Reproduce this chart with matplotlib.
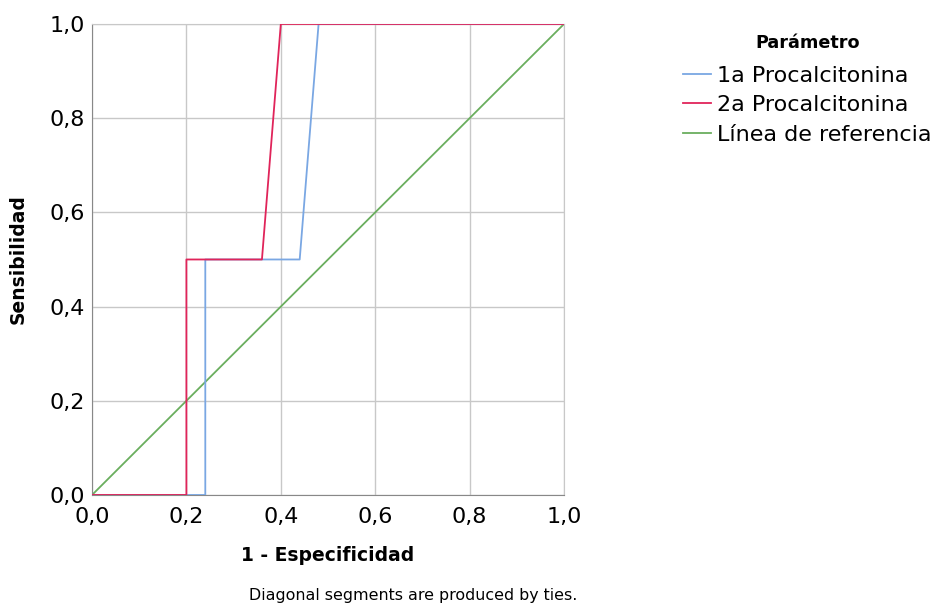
import matplotlib.pyplot as plt
import numpy as np

# curvas ROC
fpr_1a = [0.0, 0.24, 0.24, 0.44, 0.48, 1.0]
tpr_1a = [0.0, 0.0, 0.5, 0.5, 1.0, 1.0]
fpr_2a = [0.0, 0.20, 0.20, 0.36, 0.40, 1.0]
tpr_2a = [0.0, 0.0, 0.5, 0.5, 1.0, 1.0]
ref = [0.0, 1.0]
ticks = [0.0, 0.2, 0.4, 0.6, 0.8, 1.0]
tick_labels = ['0,0', '0,2', '0,4', '0,6', '0,8', '1,0']

plt.rcParams['font.family'] = 'DejaVu Sans'

fig = plt.figure(figsize=(9.36, 6.04), dpi=100)
ax = fig.add_axes([0.0983, 0.1805, 0.5043, 0.7798])

ax.plot(ref, ref, color='#6aae5e', lw=1.3, label='Línea de referencia', zorder=2)
ax.plot(fpr_1a, tpr_1a, color='#7aa7e3', lw=1.3, label='1a Procalcitonina', zorder=3)
ax.plot(fpr_2a, tpr_2a, color='#e0245a', lw=1.3, label='2a Procalcitonina', zorder=4)

ax.set_xlim(0, 1)
ax.set_ylim(0, 1)
ax.set_xticks(ticks)
ax.set_xticklabels(tick_labels, fontsize=16)
ax.set_yticks(ticks)
ax.set_yticklabels(tick_labels, fontsize=16)
ax.tick_params(axis='x', length=0, pad=9)
ax.tick_params(axis='y', length=0, pad=5)
ax.grid(True, color='#c8c8c8', lw=1)
ax.set_axisbelow(True)
for s in ['top', 'right']:
    ax.spines[s].set_color('#c8c8c8')
for s in ['left', 'bottom']:
    ax.spines[s].set_color('#888888')

ax.set_xlabel('1 - Especificidad', fontsize=13.5, fontweight='bold', labelpad=13)
ax.set_ylabel('Sensibilidad', fontsize=13.5, fontweight='bold', labelpad=16)

h, l = ax.get_legend_handles_labels()
order = [1, 2, 0]
leg = fig.legend([h[i] for i in order], [l[i] for i in order], title='Parámetro',
                 loc='upper left', bbox_to_anchor=(683 / 936, 1 - 34 / 604), frameon=False,
                 borderpad=0, borderaxespad=0,
                 fontsize=16, handlelength=1.25, handletextpad=0.3,
                 labelspacing=0.42, title_fontproperties={'weight': 'bold', 'size': 12.7})
leg._legend_box.sep = 10

fig.text(413 / 936, 0.006, 'Diagonal segments are produced by ties.', fontsize=11.4, ha='center')

fig.savefig('out.png', dpi=100)
